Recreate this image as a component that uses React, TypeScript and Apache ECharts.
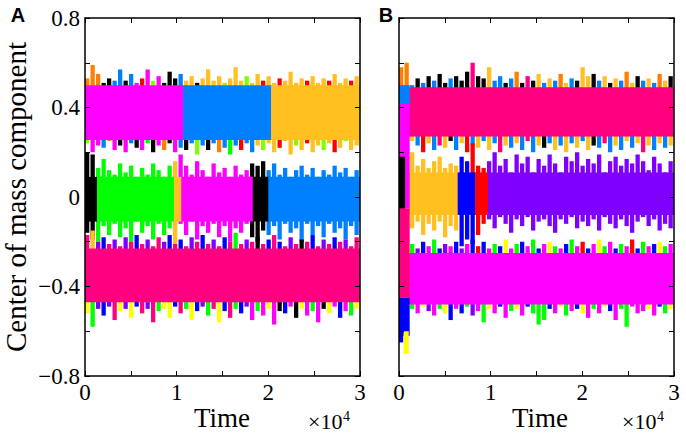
import React, { useEffect, useRef } from 'react';
import * as echarts from 'echarts';

// ---- colour keys ----
const COLORS: Record<string, string> = {
  M: '#FF00FF', P: '#FF0080', B: '#0080FF', O: '#FFC020', o: '#FF8000', K: '#000000',
  R: '#FF0000', G: '#00FF00', L: '#80FF00', N: '#0000FF', V: '#8000FF', Y: '#FFFF00',
};

// time axis (raw time units), fringe cell width in time units
const T_MAX = 30000;
const CELL = 600;
const X_TICK_LABELS = ['0', '1', '2', '3'];
const Y_TICKS = [-0.8, -0.4, 0, 0.4, 0.8];

// ================= Panel A =================
const A_TOP_RANGE = [0.255, 0.50];
const A_TOP_SEGS: [number, number, string][] = [[0, 10700, 'M'], [10700, 20300, 'B'], [20300, 30000, 'O']];
const A_TOP_UP = [.53, .59, .55, .51, .53, .52, .57, .52, .55, .51, .53, .57, .52, .54, .51, .56, .53, .55, .52, .54, .51, .53, .57, .52, .54, .51, .53, .58, .52, .54, .51, .55, .52, .54, .51, .53, .52, .56, .51, .53, .52, .54, .51, .53, .52, .55, .51, .53, .52, .54];
const A_TOP_UP_C = 'oooKKBBKBM' + 'RMLMKKKBOO' + 'KOOOOLOOOL' + 'OOROOROOOO' + 'ROOOROOORO';
const A_TOP_DN = [.24, .20, .23, .22, .25, .21, .23, .20, .24, .22, .21, .24, .20, .23, .21, .24, .20, .22, .21, .24, .19, .23, .21, .24, .20, .22, .19, .23, .21, .24, .20, .23, .21, .24, .20, .22, .25, .19, .23, .21, .24, .20, .23, .21, .24, .20, .22, .25, .21, .23];
const A_TOP_DN_C = 'LMMBoMKMBK' + 'MGKMoKMBKB' + 'LBKBoBGBRB' + 'BOLOOROOLO' + 'ROOLOROLOO';

const A_MID_RANGE = [-0.11, 0.09];
const A_MID_SEGS: [number, number, string][] = [[0, 1300, 'K'], [1300, 9700, 'G'], [9700, 10500, 'O'], [10500, 18300, 'M'], [18300, 20000, 'K'], [20000, 30000, 'B']];
const A_MID_UP = [.20, .19, .13, .17, .12, .10, .15, .11, .14, .09, .13, .10, .15, .12, .09, .14, .16, .19, .14, .10, .16, .12, .09, .15, .11, .13, .09, .14, .10, .12, .15, .14, .16, .12, .15, .10, .13, .09, .12, .14, .10, .13, .09, .12, .10, .14, .11, .13, .09, .12];
const A_MID_UP_C = 'KKGGGGGGGG' + 'GGGGGGOMMM' + 'MMMMMMMMMM' + 'KKKBBBBBBB' + 'BBBBBBBBBB';
const A_MID_DN = [-.16, -.19, -.20, -.13, -.17, -.12, -.18, -.14, -.20, -.11, -.16, -.13, -.19, -.12, -.17, -.14, -.21, -.12, -.17, -.11, -.19, -.13, -.16, -.12, -.18, -.13, -.20, -.14, -.16, -.12, -.18, -.20, -.15, -.17, -.13, -.19, -.12, -.16, -.14, -.20, -.12, -.17, -.13, -.18, -.12, -.16, -.14, -.19, -.13, -.17];
const A_MID_DN_C = 'KKGGGGGGGG' + 'GGGGGGOMMM' + 'MMMMMMMMMM' + 'KKKBBBBBBB' + 'BBBBBBBBBB';

const A_BOT_RANGE = [-0.47, -0.23];
const A_BOT_SEGS: [number, number, string][] = [[0, 30000, 'P']];
const A_BOT_UP = [-.17, -.15, -.20, -.18, -.21, -.19, -.22, -.18, -.20, -.17, -.21, -.19, -.22, -.18, -.20, -.17, -.21, -.19, -.22, -.18, -.20, -.17, -.21, -.19, -.22, -.18, -.20, -.16, -.21, -.19, -.20, -.18, -.21, -.19, -.17, -.20, -.22, -.18, -.21, -.19, -.20, -.17, -.22, -.19, -.21, -.18, -.20, -.19, -.22, -.18];
const A_BOT_UP_C = 'POVNPVPVPN' + 'PVPPVNPNPV' + 'PNPVPNPGPV' + 'PKPNPNPVPK' + 'PNPVPNPVPP';
const A_BOT_DN = [-.52, -.58, -.50, -.53, -.49, -.55, -.51, -.50, -.54, -.49, -.52, -.50, -.56, -.51, -.50, -.54, -.49, -.52, -.50, -.55, -.51, -.49, -.53, -.50, -.56, -.51, -.54, -.50, -.52, -.49, -.55, -.51, -.53, -.50, -.57, -.51, -.52, -.49, -.54, -.50, -.53, -.51, -.56, -.50, -.52, -.49, -.54, -.51, -.53, -.50];
const A_BOT_DN_C = 'YGVNVPYVYN' + 'PVPGYYNPGY' + 'NVGPYNPGNV' + 'MGMYMKNMKY' + 'MGMKYMNMGY';

const A_SPECIAL: [number, number, number, number, string][] = [];

// ================= Panel B =================
const B_TOP_RANGE = [0.27, 0.49];
const B_TOP_SEGS: [number, number, string][] = [[1000, 30000, 'P']];
const B_TOP_UP = [.58, .60, .50, .53, .51, .54, .52, .55, .51, .53, .54, .52, .56, .60, .54, .53, .58, .52, .54, .51, .53, .56, .51, .54, .52, .55, .51, .53, .52, .55, .51, .53, .52, .58, .54, .55, .52, .54, .51, .53, .52, .56, .51, .54, .52, .53, .51, .55, .52, .54];
const B_TOP_UP_C = 'ooBKBKBKKB' + 'KKKPKKOBBK' + 'BoKPKOBOBo' + 'OBKOOKBOKO' + 'BoOKBOBoOK';
const B_TOP_DN = [.22, .21, .25, .23, .20, .24, .21, .23, .22, .25, .21, .24, .20, .23, .22, .25, .21, .24, .20, .23, .22, .24, .21, .25, .20, .23, .22, .24, .21, .23, .20, .24, .22, .25, .21, .23, .22, .24, .20, .23, .21, .25, .22, .24, .20, .23, .21, .24, .22, .23];
const B_TOP_DN_C = 'BPOBROBPOK' + 'BORBOBOBPO' + 'BOBPBOKBOB' + 'OBOBOKBPBO' + 'BOBOPOBOBO';

const B_MID_RANGE = [-0.08, 0.11];
const B_MID_SEGS: [number, number, string][] = [[1100, 6400, 'O'], [6400, 8300, 'N'], [8300, 9700, 'R'], [9700, 30000, 'V']];
const B_MID_UP = [.14, .15, .20, .14, .17, .13, .16, .18, .13, .15, .14, .18, .16, .24, .14, .13, .16, .20, .14, .17, .11, .19, .15, .18, .11, .17, .14, .19, .15, .11, .18, .16, .20, .14, .17, .15, .19, .11, .16, .18, .14, .17, .15, .19, .16, .12, .18, .15, .11, .16];
const B_MID_UP_C = 'KMOOOOOOOO' + 'ONNRRRVVVV' + 'VVVVVVVVVV' + 'VVVVVVVVVV' + 'VVVVVVVVVV';
const B_MID_DN = [-.12, -.10, -.14, -.11, -.17, -.12, -.15, -.11, -.18, -.13, -.15, -.22, -.19, -.21, -.17, -.12, -.10, -.14, -.09, -.12, -.16, -.10, -.13, -.09, -.15, -.11, -.10, -.13, -.16, -.10, -.12, -.09, -.14, -.11, -.13, -.10, -.15, -.09, -.12, -.14, -.10, -.13, -.16, -.11, -.09, -.13, -.10, -.15, -.12, -.14];
const B_MID_DN_C = 'KPOOOOOOOO' + 'ONNNRRVVVV' + 'VVVVVVVVVV' + 'VVVVVVVVVV' + 'VVVVVVVVVV';

const B_BOT_RANGE = [-0.48, -0.25];
const B_BOT_SEGS: [number, number, string][] = [[1100, 30000, 'M']];
const B_BOT_UP = [-.20, -.22, -.21, -.23, -.20, -.22, -.19, -.23, -.21, -.22, -.20, -.23, -.21, -.19, -.22, -.20, -.23, -.21, -.22, -.19, -.23, -.21, -.20, -.22, -.19, -.23, -.21, -.20, -.22, -.23, -.21, -.19, -.22, -.20, -.23, -.21, -.19, -.22, -.20, -.23, -.21, -.22, -.19, -.23, -.20, -.22, -.21, -.20, -.22, -.21];
const B_BOT_UP_C = 'PPGVNMGNVM' + 'NVMNRNMGNY' + 'MGNMGNMYGM' + 'NGMRNMYGMN' + 'GMRNGMNYGM';
const B_BOT_DN = [-.65, -.62, -.50, -.52, -.49, -.51, -.53, -.50, -.52, -.55, -.50, -.52, -.49, -.53, -.51, -.56, -.50, -.52, -.49, -.54, -.51, -.50, -.53, -.49, -.52, -.57, -.55, -.50, -.52, -.49, -.53, -.51, -.50, -.52, -.54, -.50, -.52, -.49, -.51, -.55, -.50, -.58, -.49, -.52, -.51, -.50, -.53, -.49, -.52, -.50];
const B_BOT_DN_C = 'NNGMYVMGYN' + 'MNGVMGYMNM' + 'GYMNGGGNMY' + 'GMNYMGMYNM' + 'GGMMMYMNGY';

const B_SPECIAL: [number, number, number, number, string][] = [
  [0, 1100, 0.42, 0.50, 'B'],
  [0, 1100, -0.05, 0.42, 'M'],
  [0, 600, -0.10, 0.18, 'K'],
  [0, 1100, -0.45, -0.05, 'P'],
  [0, 1100, -0.62, -0.45, 'N'],
  [500, 1000, -0.70, -0.60, 'Y'],
];

type Band = {
  range: number[]; segs: [number, number, string][];
  up: number[]; upC: string; dn: number[]; dnC: string;
};

const BANDS_A: Band[] = [
  { range: A_TOP_RANGE, segs: A_TOP_SEGS, up: A_TOP_UP, upC: A_TOP_UP_C, dn: A_TOP_DN, dnC: A_TOP_DN_C },
  { range: A_MID_RANGE, segs: A_MID_SEGS, up: A_MID_UP, upC: A_MID_UP_C, dn: A_MID_DN, dnC: A_MID_DN_C },
  { range: A_BOT_RANGE, segs: A_BOT_SEGS, up: A_BOT_UP, upC: A_BOT_UP_C, dn: A_BOT_DN, dnC: A_BOT_DN_C },
];
const BANDS_B: Band[] = [
  { range: B_TOP_RANGE, segs: B_TOP_SEGS, up: B_TOP_UP, upC: B_TOP_UP_C, dn: B_TOP_DN, dnC: B_TOP_DN_C },
  { range: B_MID_RANGE, segs: B_MID_SEGS, up: B_MID_UP, upC: B_MID_UP_C, dn: B_MID_DN, dnC: B_MID_DN_C },
  { range: B_BOT_RANGE, segs: B_BOT_SEGS, up: B_BOT_UP, upC: B_BOT_UP_C, dn: B_BOT_DN, dnC: B_BOT_DN_C },
];

function buildRects(bands: Band[], specials: [number, number, number, number, string][]) {
  const data: number[][] = [];
  const cols: string[] = [];
  const push = (t0: number, t1: number, a: number, b: number, c: string, fringe: number) => {
    data.push([t0, t1, Math.min(a, b), Math.max(a, b), fringe]);
    cols.push(COLORS[c] || '#000');
  };
  bands.forEach((b) => {
    const [lo, hi] = b.range;
    b.up.forEach((v, i) => push(i * CELL, (i + 1) * CELL, hi - 0.01, v, b.upC[i], 1));
    b.dn.forEach((v, i) => push(i * CELL, (i + 1) * CELL, v, lo + 0.01, b.dnC[i], 1));
  });
  bands.forEach((b) => b.segs.forEach(([t0, t1, c]) => push(t0, t1, b.range[0], b.range[1], c, 0)));
  specials.forEach(([t0, t1, a, b, c]) => push(t0, t1, a, b, c, 0));
  return { data, cols };
}

const SERIF = "'Liberation Serif', serif";
const SANS = "'Liberation Sans', sans-serif";

export default function App() {
  const ref = useRef<HTMLDivElement>(null);
  useEffect(() => {
    if (!ref.current) return;
    const chart = echarts.init(ref.current, undefined, { renderer: 'svg' });
    const A = buildRects(BANDS_A, A_SPECIAL);
    const B = buildRects(BANDS_B, B_SPECIAL);

    const lineStyle = { color: '#000', width: 1.5 };
    const xAx = (grid: number, pos: 'bottom' | 'top') => ({
      type: 'value', gridIndex: grid, position: pos, min: 0, max: T_MAX, interval: 5000, z: 10,
      axisLine: { show: true, onZero: false, lineStyle },
      axisTick: { show: true, inside: true, length: 5, lineStyle: { color: '#000', width: 1 } },
      axisLabel: {
        show: pos === 'bottom', margin: 5, color: '#000', fontFamily: SERIF, fontSize: 23,
        formatter: (v: number) => (v % 10000 === 0 ? X_TICK_LABELS[v / 10000] : ''),
      },
      splitLine: { show: false },
    });
    const yAx = (grid: number, pos: 'left' | 'right', labels: boolean) => ({
      type: 'value', gridIndex: grid, position: pos, min: -0.8, max: 0.8, interval: 0.2, z: 10,
      axisLine: { show: true, onZero: false, lineStyle },
      axisTick: { show: true, inside: true, length: 5, lineStyle: { color: '#000', width: 1 } },
      axisLabel: {
        show: labels, margin: 5, color: '#000', fontFamily: SERIF, fontSize: 23,
        formatter: (v: number) => {
          const hit = Y_TICKS.find((t) => Math.abs(t - v) < 1e-6);
          if (hit === undefined) return '';
          if (hit === 0) return '0';
          return (hit < 0 ? '\u2212' : '') + Math.abs(hit).toFixed(1);
        },
      },
      splitLine: { show: false },
    });

    const mkSeries = (idx: number, R: { data: number[][]; cols: string[] }) => ({
      type: 'custom', xAxisIndex: idx * 2, yAxisIndex: idx * 2, clip: true, silent: true,
      data: R.data,
      renderItem: (params: any, api: any) => {
        const p0 = api.coord([api.value(0), api.value(3)]);
        const p1 = api.coord([api.value(1), api.value(2)]);
        const fringe = api.value(4) === 1;
        const w = p1[0] - p0[0];
        return {
          type: 'rect',
          shape: {
            x: p0[0], y: p0[1],
            width: fringe ? w * 0.78 : w + 0.6,
            height: p1[1] - p0[1],
          },
          style: { fill: R.cols[params.dataIndex], stroke: null },
        };
      },
    });

    const timeText = (cx: number) => ({
      type: 'text', x: cx, y: 418,
      style: { text: 'Time', fontFamily: SERIF, fontSize: 27, fill: '#000', align: 'center', verticalAlign: 'middle' },
    });
    const powText = (lx: number) => ([
      {
        type: 'text', x: lx, y: 421,
        style: { text: '\u00d710', fontFamily: SERIF, fontSize: 22, fill: '#000', align: 'left', verticalAlign: 'middle' },
      },
      {
        type: 'text', x: lx + 35, y: 416,
        style: { text: '4', fontFamily: SERIF, fontSize: 14, fill: '#000', align: 'left', verticalAlign: 'middle' },
      },
    ]);

    chart.setOption({
      animation: false,
      backgroundColor: '#fff',
      grid: [
        { left: 85, right: 326, top: 18, bottom: 57, containLabel: false },
        { left: 399, right: 12, top: 18, bottom: 57, containLabel: false },
      ],
      xAxis: [xAx(0, 'bottom'), xAx(0, 'top'), xAx(1, 'bottom'), xAx(1, 'top')],
      yAxis: [yAx(0, 'left', true), yAx(0, 'right', false), yAx(1, 'left', false), yAx(1, 'right', false)],
      series: [mkSeries(0, A), mkSeries(1, B)],
      graphic: [
        { type: 'text', x: 18, y: 15, style: { text: 'A', fontFamily: SANS, fontWeight: 'bold', fontSize: 20, fill: '#000', align: 'center', verticalAlign: 'middle' } },
        { type: 'text', x: 386, y: 15, style: { text: 'B', fontFamily: SANS, fontWeight: 'bold', fontSize: 20, fill: '#000', align: 'center', verticalAlign: 'middle' } },
        {
          type: 'text', x: 16, y: 197, rotation: Math.PI / 2,
          style: { text: 'Center of mass component', fontFamily: SERIF, fontSize: 29, fill: '#000', align: 'center', verticalAlign: 'middle' },
        },
        timeText(222), timeText(540),
        ...powText(308), ...powText(622),
      ],
    });
    return () => chart.dispose();
  }, []);
  return <div ref={ref} style={{ position: 'absolute', left: 0, top: 0, width: 686, height: 433 }} />;
}
